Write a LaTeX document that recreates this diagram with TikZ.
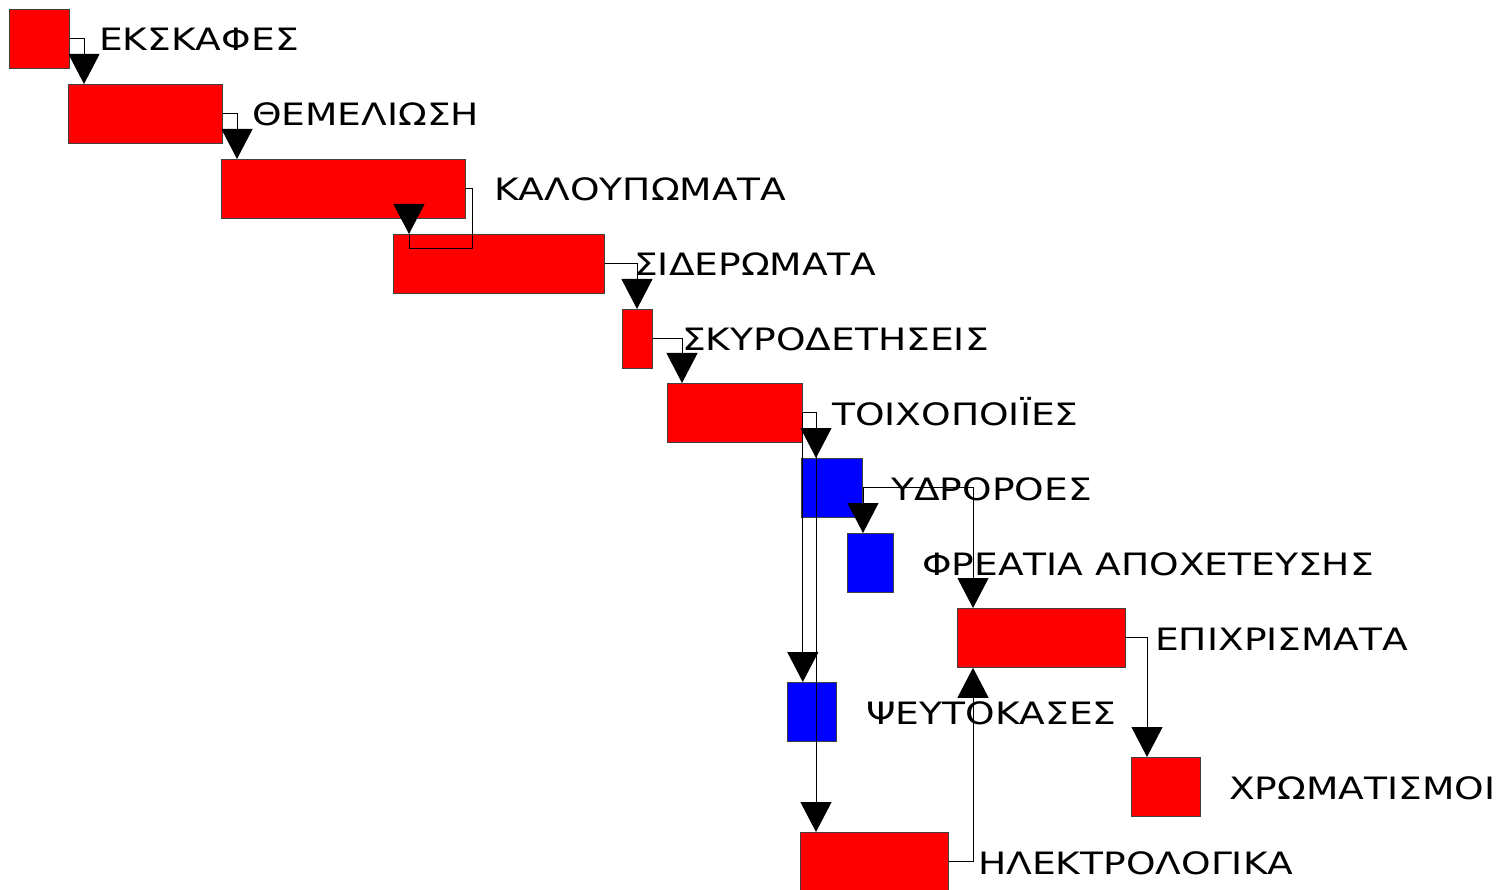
\documentclass[tikz,border=0pt]{standalone}
\usepackage{fontspec}
\setmainfont{DejaVu Sans}
\usetikzlibrary{arrows.meta}
\newcommand{\lbl}[1]{\scalebox{1.22}[1]{#1}}
\begin{document}
\begin{tikzpicture}[x=1pt,y=-1pt,
  bar/.style={draw=black!75,line width=0.8pt,anchor=north west,inner sep=0pt,minimum height=59pt},
  redbar/.style={bar,fill=red},
  bluebar/.style={bar,fill=blue},
  txt/.style={anchor=base west,inner sep=0pt,font=\fontsize{30.8}{36}\selectfont},
  link/.style={line width=1pt,black},
  arr/.style={link,-{Triangle[width=31pt,length=30pt]}}]
\useasboundingbox (0,0) rectangle (1502,890);
% bars
\node[redbar,minimum width=60pt]  (b1)  at (9,9)    {};
\node[redbar,minimum width=154pt] (b2)  at (68,84)  {};
\node[redbar,minimum width=244pt] (b3)  at (221,159) {};
\node[redbar,minimum width=211pt] (b4)  at (393,234) {};
\node[redbar,minimum width=30pt]  (b5)  at (622,309) {};
\node[redbar,minimum width=135pt] (b6)  at (667,383) {};
\node[bluebar,minimum width=61pt] (b7)  at (801,458) {};
\node[bluebar,minimum width=46pt] (b8)  at (847,533) {};
\node[redbar,minimum width=168pt] (b9)  at (957,608) {};
\node[bluebar,minimum width=49pt] (b10) at (787,682) {};
\node[redbar,minimum width=69pt]  (b11) at (1131,757) {};
\node[redbar,minimum width=148pt] (b12) at (800,832) {};
% labels
\node[txt] (t1)  at (99,51)    {\lbl{ΕΚΣΚΑΦΕΣ}};
\node[txt] (t2)  at (252,126)  {\lbl{ΘΕΜΕΛΙΩΣΗ}};
\node[txt] (t3)  at (494,201)  {\lbl{ΚΑΛΟΥΠΩΜΑΤΑ}};
\node[txt] (t4)  at (634,276)  {\lbl{ΣΙΔΕΡΩΜΑΤΑ}};
\node[txt] (t5)  at (682,351)  {\lbl{ΣΚΥΡΟΔΕΤΗΣΕΙΣ}};
\node[txt] (t6)  at (832,425)  {\lbl{ΤΟΙΧΟΠΟΙΪΕΣ}};
\node[txt] (t7)  at (891,500)  {\lbl{ΥΔΡΟΡΟΕΣ}};
\node[txt] (t8)  at (922,575)  {\lbl{ΦΡΕΑΤΙΑ ΑΠΟΧΕΤΕΥΣΗΣ}};
\node[txt] (t9)  at (1155,650) {\lbl{ΕΠΙΧΡΙΣΜΑΤΑ}};
\node[txt] (t10) at (866,724)  {\lbl{ΨΕΥΤΟΚΑΣΕΣ}};
\node[txt] (t11) at (1229,799) {\lbl{ΧΡΩΜΑΤΙΣΜΟΙ}};
\node[txt] (t12) at (978,874)  {\lbl{ΗΛΕΚΤΡΟΛΟΓΙΚΑ}};
% connectors
\draw[arr] (b1.east) -| ([xshift=16pt]b2.north west);
\draw[arr] (b2.east) -| ([xshift=16pt]b3.north west);
\draw[link] (b3.east) -- ++(7,0) |- ([xshift=16pt,yshift=-15pt]b4.north west) -- ([xshift=16pt]b4.north west);
\draw[arr] ([xshift=16pt,yshift=30pt]b4.north west) -- ([xshift=16pt]b4.north west);
\draw[arr] (b4.east) -| ([xshift=15pt]b5.north west);
\draw[arr] (b5.east) -| ([xshift=15pt]b6.north west);
\draw[arr] (b6.east) -| ([xshift=15pt]b7.north west);
\draw[arr] (b6.east) -- (b6.east |- b10.north);
\draw[arr] (b6.east) -| ([xshift=16pt]b12.north west);
\draw[arr] (b7.east) -| ([xshift=16pt]b8.north west);
\draw[arr] (b7.east) -| ([xshift=16pt]b9.north west);
\draw[arr] (b12.east) -| ([xshift=16pt]b9.south west);
\draw[arr] (b9.east) -| ([xshift=16pt]b11.north west);
\end{tikzpicture}
\end{document}
